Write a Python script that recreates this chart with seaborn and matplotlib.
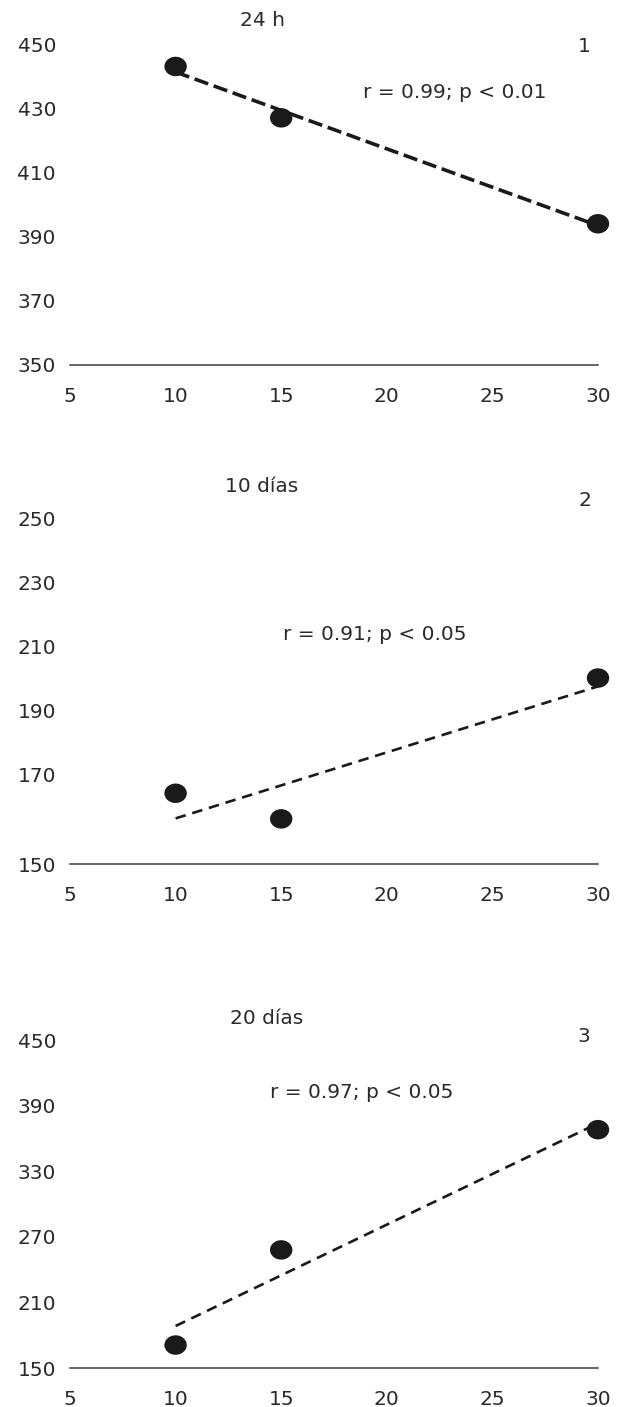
import numpy as np
import pandas as pd
import matplotlib
matplotlib.use("Agg")
import matplotlib.pyplot as plt
from matplotlib.path import Path
from matplotlib.transforms import Affine2D
import seaborn as sns

# ---- data ----
x_vals = [10, 15, 30]
y_24h = [443, 427, 394]
y_10d = [164, 156, 200]
y_20d = [171, 258, 368]

titles = ["24 h", "10 días", "20 días"]
panel_ids = ["1", "2", "3"]
stats = ["r = 0.99; p < 0.01", "r = 0.91; p < 0.05", "r = 0.97; p < 0.05"]

xticks = [5, 10, 15, 20, 25, 30]
yticks_1 = [350, 370, 390, 410, 430, 450]
yticks_2 = [141.9, 170, 190, 210, 230, 250]
ylabels_2 = ["150", "170", "190", "210", "230", "250"]
yticks_3 = [150, 210, 270, 330, 390, 450]

sns.set_theme(style="white")
plt.rcParams['font.family'] = ['DejaVu Sans']
TXT = "#2a2a2a"

W, H = 630, 1407
fig = plt.figure(figsize=(W / 100, H / 100), dpi=100)

def add_ax(top_px, bottom_px, left_px=70, right_px=598):
    return fig.add_axes([left_px / W, 1 - bottom_px / H,
                         (right_px - left_px) / W, (bottom_px - top_px) / H])

ell = Path.unit_circle().transformed(Affine2D().scale(1.15, 1.0))

panels = [
    dict(top=44, bottom=365, y=y_24h, yt=yticks_1, yl=[str(v) for v in yticks_1],
         ylim=(350, 450), lw=2.6, dash=(4.0, 1.6),
         title_xy=(262, 20), id_xy=(584, 47), stat_xy=(455, 92)),
    dict(top=518, bottom=864, y=y_10d, yt=yticks_2, yl=ylabels_2,
         ylim=(141.9, 250), lw=1.9, dash=(4.0, 2.6),
         title_xy=(262, 487), id_xy=(585, 500), stat_xy=(375, 634)),
    dict(top=1040, bottom=1368, y=y_20d, yt=yticks_3, yl=[str(v) for v in yticks_3],
         ylim=(150, 450), lw=1.9, dash=(4.0, 2.6),
         title_xy=(267, 1018), id_xy=(584, 1037), stat_xy=(362, 1093)),
]

for i, p in enumerate(panels):
    ax = add_ax(p["top"], p["bottom"])
    df = pd.DataFrame({"x": x_vals, "y": p["y"]})
    sns.regplot(data=df, x="x", y="y", ax=ax, ci=None, scatter=False,
                truncate=True,
                line_kws=dict(color="#1a1a1a", lw=p["lw"], dashes=p["dash"],
                              zorder=2))
    sns.scatterplot(data=df, x="x", y="y", ax=ax, marker=ell, s=260,
                    color="#1a1a1a", edgecolor="none", zorder=3, clip_on=False)
    ax.set_xlim(5, 30)
    ax.set_ylim(*p["ylim"])
    ax.set_xticks(xticks)
    ax.set_xticklabels([str(v) for v in xticks])
    ax.set_yticks(p["yt"])
    ax.set_yticklabels(p["yl"])
    ax.set_xlabel("")
    ax.set_ylabel("")
    for s in ["left", "top", "right"]:
        ax.spines[s].set_visible(False)
    ax.spines["bottom"].set_color("#3a3a3a")
    ax.spines["bottom"].set_linewidth(1.1)
    ax.tick_params(axis="both", length=0, labelsize=14.5, colors=TXT)
    ax.tick_params(axis="x", pad=16)
    ax.tick_params(axis="y", pad=10)
    ax.set_facecolor("none")
    for lines in ax.get_lines():
        lines.set_clip_on(False)

    tx, ty = p["title_xy"]
    fig.text(tx / W, 1 - ty / H, titles[i], ha="center", va="center",
             fontsize=14.5, color=TXT)
    ix, iy = p["id_xy"]
    fig.text(ix / W, 1 - iy / H, panel_ids[i], ha="center", va="center",
             fontsize=14.5, color=TXT)
    sx, sy = p["stat_xy"]
    fig.text(sx / W, 1 - sy / H, stats[i], ha="center", va="center",
             fontsize=14.5, color=TXT)

fig.savefig("out.png", dpi=100, facecolor="white")
